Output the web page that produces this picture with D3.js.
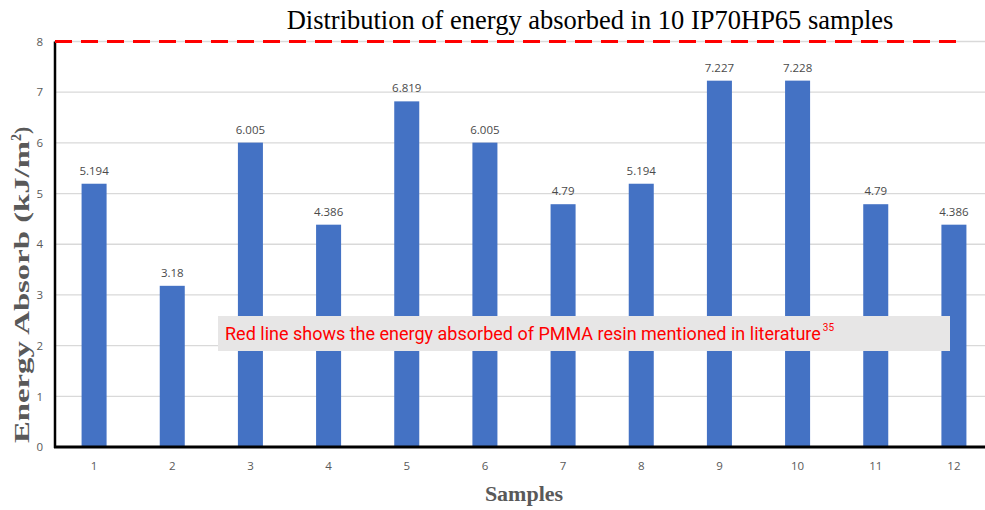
<!DOCTYPE html>
<html><head><meta charset="utf-8">
<script src="https://cdn.jsdelivr.net/npm/d3@7"></script>
<style>body{margin:0;background:#fff}svg{display:block}</style>
</head><body>
<script>
const categories = ["1","2","3","4","5","6","7","8","9","10","11","12"];
const values = [5.194, 3.18, 6.005, 4.386, 6.819, 6.005, 4.79, 5.194, 7.227, 7.228, 4.79, 4.386];
const valueLabels = ["5.194","3.18","6.005","4.386","6.819","6.005","4.79","5.194","7.227","7.228","4.79","4.386"];
const yTicks = [0,1,2,3,4,5,6,7,8];
const referenceValue = 8;
const title = "Distribution of energy absorbed in 10 IP70HP65 samples";
const xTitle = "Samples";
const yTitle = "Energy Absorb (kJ/m";
const noteText = "Red line shows the energy absorbed of PMMA resin mentioned in literature";
const noteSup = "35";

const W = 985, H = 510;
const svg = d3.select("body").append("svg").attr("width", W).attr("height", H);
const mLeft = 55, mRight = 993, mTop = 41.5, mBottom = 447;
const x = d3.scaleBand().domain(categories).range([mLeft, mRight]).paddingInner(0.68).paddingOuter(0.34);
const y = d3.scaleLinear().domain([0, 8]).range([mBottom, mTop]);

// gridlines
svg.append("g").selectAll("line").data(yTicks.filter(d => d > 0)).join("line")
  .attr("x1", mLeft).attr("x2", W).attr("y1", d => y(d)).attr("y2", d => y(d))
  .attr("stroke", "#d9d9d9").attr("stroke-width", 1.3);

// y tick labels
const yAxis = d3.axisLeft(y).tickValues(yTicks).tickSize(0).tickPadding(12).tickFormat(d3.format("d"));
const ya = svg.append("g").attr("transform", `translate(${mLeft},0)`).call(yAxis);
ya.select(".domain").remove();
ya.selectAll("text").attr("fill", "#595959").style("font-family", "'Open Sans', sans-serif").style("font-size", "11.5px");

// x tick labels
const xAxis = d3.axisBottom(x).tickSize(0).tickPadding(15);
const xa = svg.append("g").attr("transform", `translate(0,${mBottom})`).call(xAxis);
xa.select(".domain").remove();
xa.selectAll("text").attr("fill", "#595959").style("font-family", "'Open Sans', sans-serif").style("font-size", "11.5px");

// bars
svg.append("g").selectAll("rect").data(values).join("rect")
  .attr("x", (d, i) => x(categories[i])).attr("width", x.bandwidth())
  .attr("y", d => y(d)).attr("height", d => y(0) - y(d))
  .attr("fill", "#4472c4");

// value labels
svg.append("g").selectAll("text").data(values).join("text")
  .attr("x", (d, i) => x(categories[i]) + x.bandwidth() / 2).attr("y", d => y(d) - 9)
  .attr("text-anchor", "middle").attr("fill", "#4a4a4a")
  .style("font-family", "'Open Sans', sans-serif").style("font-size", "11.5px")
  .text((d, i) => valueLabels[i]);

// axes lines
svg.append("line").attr("x1", mLeft).attr("x2", mLeft).attr("y1", y(8)).attr("y2", mBottom + 1)
  .attr("stroke", "#000").attr("stroke-width", 2.5);
svg.append("line").attr("x1", mLeft - 1).attr("x2", W).attr("y1", mBottom).attr("y2", mBottom)
  .attr("stroke", "#000").attr("stroke-width", 3);

// reference dashed line
svg.append("line").attr("x1", mLeft).attr("x2", 963).attr("y1", y(referenceValue)).attr("y2", y(referenceValue))
  .attr("stroke", "#ff0000").attr("stroke-width", 3).attr("stroke-dasharray", "17 9");

// title
svg.append("text").attr("x", 590).attr("y", 29).attr("text-anchor", "middle")
  .style("font-family", "'Liberation Serif', 'Times New Roman', serif").style("font-size", "26.5px").attr("fill", "#000")
  .text(title);

// axis titles
svg.append("text").attr("x", 524).attr("y", 501).attr("text-anchor", "middle")
  .style("font-family", "'Liberation Serif', serif").style("font-weight", "bold").style("font-size", "22px").attr("fill", "#595959")
  .text(xTitle);
const yt = svg.append("text").attr("transform", `translate(29,443) rotate(-90)`).attr("text-anchor", "start")
  .style("font-family", "'Liberation Serif', serif").style("font-weight", "bold").style("font-size", "22px").attr("fill", "#595959");
yt.append("tspan").attr("textLength", 302).attr("lengthAdjust", "spacingAndGlyphs").text(yTitle);
yt.append("tspan").attr("dy", -8).style("font-size", "14px").text("2");
yt.append("tspan").attr("dy", 8).text(")");

// note box
svg.append("rect").attr("x", 218).attr("y", 316).attr("width", 732).attr("height", 35).attr("fill", "#e7e6e6");
const note = svg.append("text").attr("x", 225).attr("y", 340).attr("fill", "#ff0000")
  .style("font-family", "Roboto, 'Open Sans', sans-serif").style("font-size", "18px").text(noteText);
const natural = note.node().getComputedTextLength();
const fs = Math.min(18, 18 * 604 / natural);
note.style("font-size", fs + "px");
const endX = 225 + note.node().getComputedTextLength();
svg.append("text").attr("x", endX + 2).attr("y", 331).attr("fill", "#ff0000")
  .style("font-family", "Roboto, 'Open Sans', sans-serif").style("font-size", "10px").text(noteSup);
</script>
</body></html>
